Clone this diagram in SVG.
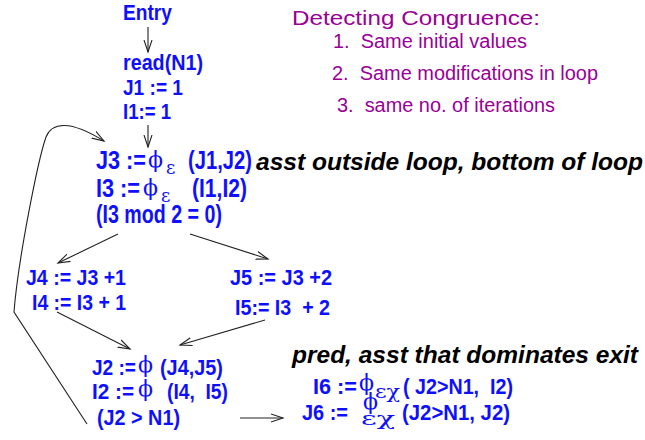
<svg xmlns="http://www.w3.org/2000/svg" width="645" height="440" viewBox="0 0 645 440">
<style>
.b{font-family:"Liberation Sans",Arial,sans-serif;font-weight:bold;font-size:22px;fill:#0f0fff}
.h{font-size:26px}
.g{font-family:"DejaVu Serif","Liberation Serif",serif;font-size:22px;fill:#0f0fff}
.s{font-family:"DejaVu Serif","Liberation Serif",serif;font-size:18px;fill:#0f0fff}
.n{font-family:"Liberation Sans",Arial,sans-serif;font-weight:bold;font-style:italic;font-size:24px;fill:#000}
.p{font-family:"Liberation Sans",Arial,sans-serif;font-size:20px;fill:#9a0096}
.c{fill:none;stroke:#222;stroke-width:1.1}
</style>
<defs>
<marker id="ah" markerWidth="14" markerHeight="10" refX="12" refY="5" orient="auto" markerUnits="userSpaceOnUse">
<path d="M0,1 L12,5 L0,9" fill="none" stroke="#222" stroke-width="1.1"/>
</marker>
</defs>
<g id="connectors">
<path class="c" d="M148,27 L148,52" marker-end="url(#ah)"/>
<path class="c" d="M148,125 L148,147" marker-end="url(#ah)"/>
<path class="c" d="M118,234 L58,263" marker-end="url(#ah)"/>
<path class="c" d="M190,234 L268,259" marker-end="url(#ah)"/>
<path class="c" d="M57,312 L130,349" marker-end="url(#ah)"/>
<path class="c" d="M265,320 L180,345" marker-end="url(#ah)"/>
<path class="c" d="M240,418 L283,418" marker-end="url(#ah)"/>
<path class="c" d="M87,424 L14,312 C18,260 38,160 46,137 C52,122 70,120 104,141" marker-end="url(#ah)"/>
</g>
<g id="entry">
<text class="b" x="123" y="20" textLength="49" lengthAdjust="spacingAndGlyphs">Entry</text>
</g>
<g id="init">
<text class="b" x="123" y="70" textLength="80" lengthAdjust="spacingAndGlyphs">read(N1)</text>
<text class="b" x="123" y="95" textLength="60" lengthAdjust="spacingAndGlyphs">J1 := 1</text>
<text class="b" x="123" y="119" textLength="48" lengthAdjust="spacingAndGlyphs">I1:= 1</text>
</g>
<g id="header">
<text class="b h" x="96" y="169" textLength="50" lengthAdjust="spacingAndGlyphs">J3 :=</text>
<text class="g" x="148" y="167" font-size="25">ϕ</text>
<text class="s" x="166" y="174" font-size="20">ε</text>
<text class="b h" x="188" y="169" textLength="64" lengthAdjust="spacingAndGlyphs">(J1,J2)</text>
<text class="b h" x="96" y="197" textLength="44" lengthAdjust="spacingAndGlyphs">I3 :=</text>
<text class="g" x="143" y="195" font-size="25">ϕ</text>
<text class="s" x="161" y="202" font-size="20">ε</text>
<text class="b h" x="192" y="197" textLength="55" lengthAdjust="spacingAndGlyphs">(I1,I2)</text>
<text class="b h" x="96" y="223" textLength="126" lengthAdjust="spacingAndGlyphs">(I3 mod 2 = 0)</text>
</g>
<g id="then">
<text class="b" x="26" y="285" textLength="100" lengthAdjust="spacingAndGlyphs">J4 := J3 +1</text>
<text class="b" x="32" y="310" textLength="94" lengthAdjust="spacingAndGlyphs">I4 := I3 + 1</text>
</g>
<g id="else">
<text class="b" x="230" y="285" textLength="102" lengthAdjust="spacingAndGlyphs">J5 := J3 +2</text>
<text class="b" x="235" y="315" textLength="95" lengthAdjust="spacingAndGlyphs" xml:space="preserve">I5:= I3  + 2</text>
</g>
<g id="latch">
<text class="b" x="92" y="375" textLength="44" lengthAdjust="spacingAndGlyphs">J2 :=</text>
<text class="g" x="138" y="372">ϕ</text>
<text class="b" x="160" y="375" textLength="63" lengthAdjust="spacingAndGlyphs">(J4,J5)</text>
<text class="b" x="92" y="399" textLength="42" lengthAdjust="spacingAndGlyphs">I2 :=</text>
<text class="g" x="138" y="396">ϕ</text>
<text class="b" x="167" y="399" textLength="61" lengthAdjust="spacingAndGlyphs" xml:space="preserve">(I4,  I5)</text>
<text class="b" x="97" y="425" textLength="83" lengthAdjust="spacingAndGlyphs">(J2 &gt; N1)</text>
</g>
<g id="exit">
<text class="b" x="313" y="394" textLength="44" lengthAdjust="spacingAndGlyphs">I6 :=</text>
<text class="g" x="359" y="390" font-size="20">ϕ</text>
<text class="s" x="375" y="398" font-size="17" textLength="25" lengthAdjust="spacingAndGlyphs">εχ</text>
<text class="b" x="403" y="394" textLength="110" lengthAdjust="spacingAndGlyphs" xml:space="preserve">( J2&gt;N1,  I2)</text>
<text class="b" x="302" y="420" textLength="46" lengthAdjust="spacingAndGlyphs">J6 :=</text>
<text class="g" x="363" y="409" font-size="20">ϕ</text>
<text class="s" x="361" y="425" font-size="17" textLength="34" lengthAdjust="spacingAndGlyphs">εχ</text>
<text class="b" x="402" y="420" textLength="108" lengthAdjust="spacingAndGlyphs">(J2&gt;N1, J2)</text>
</g>
<g id="notes">
<text class="n" x="256" y="170" textLength="387" lengthAdjust="spacingAndGlyphs">asst outside loop, bottom of loop</text>
<text class="n" x="292" y="363" textLength="346" lengthAdjust="spacingAndGlyphs">pred, asst that dominates exit</text>
</g>
<g id="congruence">
<text class="p" x="292" y="25" font-size="22" textLength="248" lengthAdjust="spacingAndGlyphs">Detecting Congruence:</text>
<text class="p" x="333" y="48" textLength="194" lengthAdjust="spacingAndGlyphs" xml:space="preserve">1.  Same initial values</text>
<text class="p" x="332" y="80" textLength="266" lengthAdjust="spacingAndGlyphs" xml:space="preserve">2.  Same modifications in loop</text>
<text class="p" x="337" y="112" textLength="218" lengthAdjust="spacingAndGlyphs" xml:space="preserve">3.  same no. of iterations</text>
</g>
</svg>
